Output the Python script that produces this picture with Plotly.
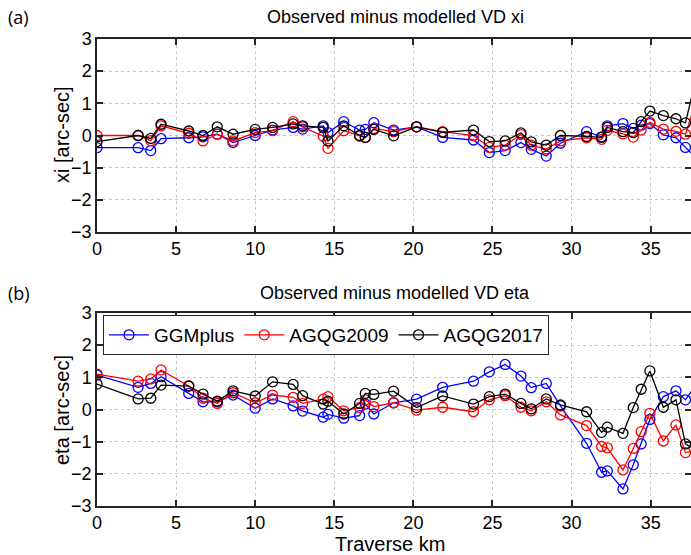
import plotly.graph_objects as go

# ---- data ----
km = [0, 2.6, 3.4, 4.05, 5.8, 6.7, 7.6, 8.6, 10.0, 11.1, 12.4, 13.0, 14.3, 14.6, 15.6,
      16.6, 16.96, 17.5, 18.75, 20.2, 21.85, 23.8, 24.8, 25.8, 26.8, 27.45, 28.4, 29.3,
      30.95, 31.9, 32.26, 33.25, 33.9, 34.4, 34.95, 35.8, 36.6, 37.2, 38.0]

xi_ggmplus = [-0.38, -0.38, -0.47, -0.1, -0.07, -0.04, 0.04, -0.22, 0.0, 0.17, 0.25, 0.2,
              0.3, 0.09, 0.43, 0.17, 0.19, 0.4, 0.17, 0.27, -0.06, -0.14, -0.53, -0.47,
              -0.22, -0.43, -0.64, -0.24, 0.12, -0.04, 0.3, 0.37, 0.22, 0.32, 0.37, 0.02,
              -0.07, -0.37, -0.76]
xi_agqg2009 = [0.0, 0.0, -0.16, 0.3, 0.07, -0.17, 0.04, -0.17, 0.09, 0.15, 0.43, 0.27,
               -0.02, -0.4, 0.15, -0.02, -0.06, 0.22, 0.12, 0.27, 0.12, 0.0, -0.37, -0.3,
               0.03, -0.3, -0.42, -0.17, -0.07, -0.12, 0.16, 0.05, -0.05, 0.17, 0.41, 0.2,
               0.13, 0.04, 1.25]
xi_agqg2017 = [-0.19, 0.0, -0.09, 0.35, 0.14, 0.0, 0.27, 0.04, 0.19, 0.25, 0.36, 0.3,
               0.25, -0.17, 0.3, 0.0, -0.06, 0.19, -0.01, 0.27, 0.1, 0.17, -0.19, -0.17,
               0.08, -0.2, -0.3, 0.0, -0.03, -0.06, 0.25, 0.12, 0.09, 0.43, 0.76, 0.62,
               0.52, 0.39, 2.05]

eta_ggmplus = [1.07, 0.69, 0.81, 1.02, 0.5, 0.24, 0.24, 0.45, 0.04, 0.33, 0.11, -0.05,
               -0.24, -0.15, -0.27, -0.19, 0.17, -0.14, 0.21, 0.32, 0.69, 0.88, 1.17, 1.4,
               1.04, 0.68, 0.81, 0.11, -1.05, -1.95, -1.91, -2.47, -1.72, -1.07, -0.31,
               0.4, 0.58, 0.3, 0.86]
eta_agqg2009 = [1.1, 0.88, 0.95, 1.23, 0.73, 0.35, 0.19, 0.52, 0.21, 0.45, 0.38, 0.19,
                0.32, 0.4, -0.04, 0.06, 0.3, 0.09, 0.21, -0.02, 0.07, -0.07, 0.3, 0.43,
                0.07, -0.04, 0.24, -0.17, -0.5, -1.15, -1.19, -1.88, -1.21, -0.69, -0.12,
                -0.98, -0.48, -1.34, -1.25]
eta_agqg2017 = [0.79, 0.33, 0.35, 0.76, 0.73, 0.48, 0.26, 0.58, 0.42, 0.86, 0.78, 0.43,
                0.17, 0.26, -0.14, 0.19, 0.5, 0.47, 0.57, 0.06, 0.42, 0.17, 0.4, 0.48,
                0.19, 0.02, 0.33, 0.14, -0.07, -0.71, -0.55, -0.74, 0.06, 0.63, 1.2, 0.07,
                0.3, -1.07, -1.3]

series_names = ["GGMplus", "AGQG2009", "AGQG2017"]
series_colors = ["#0000ff", "#ff0000", "#000000"]
x_ticks = [0, 5, 10, 15, 20, 25, 30, 35]
y_ticks = [-3, -2, -1, 0, 1, 2, 3]

W, H = 691, 555
L = 97

def px_x(p):
    return (p - L) / (W - L)

def px_y(p):
    return 1 - p / H

fig = go.Figure()
top = [xi_ggmplus, xi_agqg2009, xi_agqg2017]
bot = [eta_ggmplus, eta_agqg2009, eta_agqg2017]
for name, col, ys in zip(series_names, series_colors, top):
    fig.add_trace(go.Scatter(x=km, y=ys, mode="lines+markers", name=name,
                             line=dict(color=col, width=1.3),
                             marker=dict(symbol="circle-open", size=10, color=col,
                                         line=dict(width=1.3, color=col)),
                             xaxis="x", yaxis="y", showlegend=False))
for name, col, ys in zip(series_names, series_colors, bot):
    fig.add_trace(go.Scatter(x=km, y=ys, mode="lines+markers", name=name,
                             line=dict(color=col, width=1.3),
                             marker=dict(symbol="circle-open", size=10, color=col,
                                         line=dict(width=1.3, color=col)),
                             xaxis="x2", yaxis="y2", showlegend=True))

axis_common = dict(showline=True, linecolor="#262626", linewidth=1.5, mirror="ticks",
                   ticks="inside", ticklen=6, tickcolor="#262626", tickwidth=1.5,
                   showgrid=True, gridcolor="#c8c8c8", griddash="dot", gridwidth=1,
                   zeroline=False, automargin=False,
                   tickfont=dict(family="Liberation Sans, Arial", size=18, color="#000000"))
xr = [0, 37.55]
fig.update_layout(
    width=W, height=H,
    margin=dict(l=L, r=0, t=0, b=0, pad=0, autoexpand=False),
    paper_bgcolor="white", plot_bgcolor="white",
    xaxis=dict(domain=[0, 1], range=xr, tickvals=x_ticks, anchor="y", **axis_common),
    yaxis=dict(domain=[px_y(232), px_y(39)], range=[-3, 3], tickvals=y_ticks,
               anchor="x", **axis_common),
    xaxis2=dict(domain=[0, 1], range=xr, tickvals=x_ticks, anchor="y2", **axis_common),
    yaxis2=dict(domain=[px_y(506), px_y(313)], range=[-3, 3], tickvals=y_ticks,
                anchor="x2", **axis_common),
    legend=dict(orientation="h", x=px_x(103), y=px_y(315), xanchor="left", yanchor="top",
                bgcolor="white", bordercolor="#262626", borderwidth=1,
                font=dict(family="Liberation Sans, Arial", size=19, color="#000000"),
                itemwidth=40, tracegroupgap=0),
    showlegend=True,
)

fam = "Liberation Sans, Arial"
ann = [
    dict(text="Observed minus modelled VD xi", x=px_x(395), y=px_y(17), size=18, fam=fam),
    dict(text="Observed minus modelled VD eta", x=px_x(395), y=px_y(293), size=18, fam=fam),
    dict(text="(a)", x=px_x(19), y=px_y(17), size=18, fam="Open Sans"),
    dict(text="(b)", x=px_x(19), y=px_y(293), size=18, fam="Open Sans"),
    dict(text="Traverse km", x=px_x(390), y=px_y(544), size=20, fam=fam),
]
annotations = []
for a in ann:
    annotations.append(dict(text=a["text"], x=a["x"], y=a["y"], xref="paper", yref="paper",
                            xanchor="center", yanchor="middle", showarrow=False,
                            font=dict(family=a["fam"], size=a["size"], color="#000000")))
annotations.append(dict(text="xi [arc-sec]", x=px_x(62), y=px_y(135), xref="paper",
                        yref="paper", textangle=-90, showarrow=False, xanchor="center",
                        yanchor="middle", font=dict(family=fam, size=20, color="#000000")))
annotations.append(dict(text="eta [arc-sec]", x=px_x(62), y=px_y(410), xref="paper",
                        yref="paper", textangle=-90, showarrow=False, xanchor="center",
                        yanchor="middle", font=dict(family=fam, size=20, color="#000000")))
fig.update_layout(annotations=annotations)

fig.write_html("out.html")
